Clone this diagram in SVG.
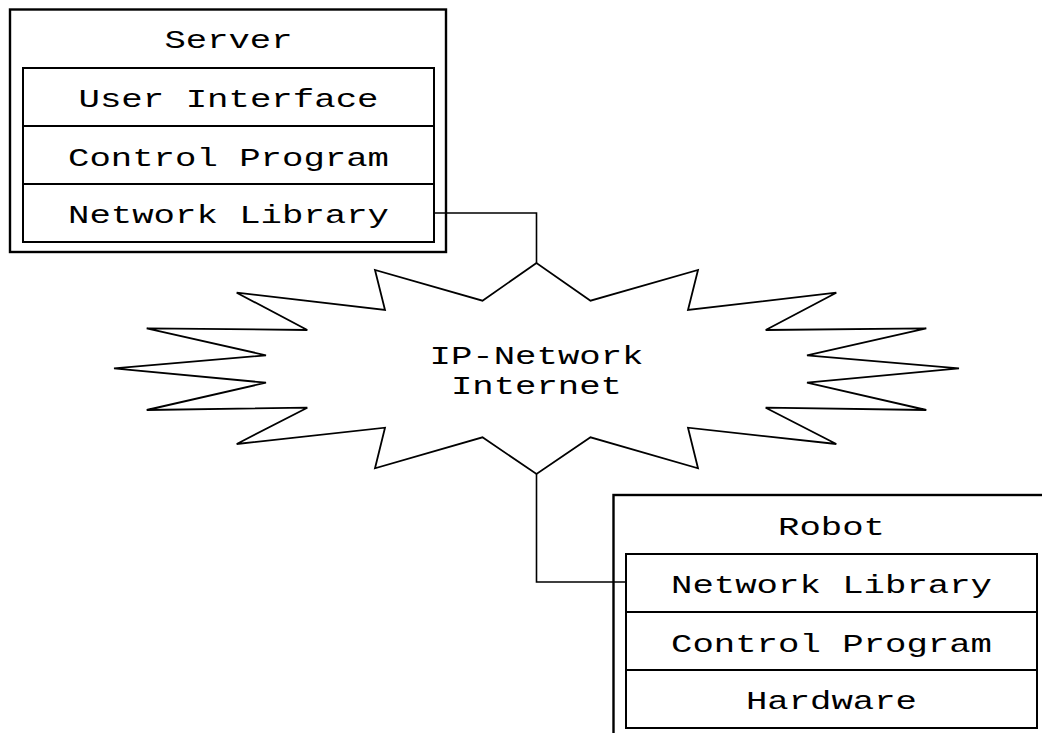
<svg xmlns="http://www.w3.org/2000/svg" width="1042" height="733" viewBox="0 0 1042 733">
<style>
.outer{fill:#fff;stroke:#000;stroke-width:2.4}
.inner{fill:#fff;stroke:#000;stroke-width:2}
.t{font-family:"Liberation Mono","Courier New",monospace;font-size:26px;fill:#000;text-anchor:middle}
.c{fill:none;stroke:#000;stroke-width:1.6}
.cloud{fill:#fff;stroke:#000;stroke-width:1.8;stroke-linejoin:miter}
</style>
<rect width="1042" height="733" fill="#fff"/>
<g id="server">
<rect class="outer" x="10" y="9.5" width="436" height="242.5"/>
<text class="t" x="228.5" y="48" textLength="128" lengthAdjust="spacingAndGlyphs">Server</text>
<rect class="inner" x="23" y="68" width="411" height="58"/>
<text class="t" x="228.5" y="107" textLength="300" lengthAdjust="spacingAndGlyphs">User Interface</text>
<rect class="inner" x="23" y="126" width="411" height="58"/>
<text class="t" x="228.5" y="165.5" textLength="321" lengthAdjust="spacingAndGlyphs">Control Program</text>
<rect class="inner" x="23" y="184" width="411" height="58"/>
<text class="t" x="228.5" y="223" textLength="321" lengthAdjust="spacingAndGlyphs">Network Library</text>
</g>
<g id="network">
<polygon class="cloud" points="536.5,263 482.5,300.7 375,270 385,310 236.7,292.7 307.3,330 146.7,328.3 266,355.3 114,368.3 266,382.7 146.7,410 307.3,407.7 236.7,444 385,427.7 375,468.3 482.5,437.3 536.5,474 590.5,437.3 698,468.3 688,427.7 836.3,444 765.7,407.7 926.3,410 807,382.7 959,368.3 807,355.3 926.3,328.3 765.7,330 836.3,292.7 688,310 698,270 590.5,300.7"/>
<text class="t" x="536.5" y="363.5" textLength="214" lengthAdjust="spacingAndGlyphs">IP-Network</text>
<text class="t" x="536.5" y="393.5" textLength="171" lengthAdjust="spacingAndGlyphs">Internet</text>
</g>
<g id="robot">
<rect class="outer" x="613.5" y="495" width="440" height="250"/>
<text class="t" x="831.5" y="534.5" textLength="107" lengthAdjust="spacingAndGlyphs">Robot</text>
<rect class="inner" x="626" y="554" width="411" height="58"/>
<text class="t" x="831.5" y="593" textLength="321" lengthAdjust="spacingAndGlyphs">Network Library</text>
<rect class="inner" x="626" y="612" width="411" height="58"/>
<text class="t" x="831.5" y="651.5" textLength="321" lengthAdjust="spacingAndGlyphs">Control Program</text>
<rect class="inner" x="626" y="670" width="411" height="58"/>
<text class="t" x="831.5" y="709" textLength="171" lengthAdjust="spacingAndGlyphs">Hardware</text>
</g>
<g id="connectors">
<polyline class="c" points="434,213 536.5,213 536.5,263"/>
<polyline class="c" points="536.5,474 536.5,582 626,582"/>
</g>
</svg>
